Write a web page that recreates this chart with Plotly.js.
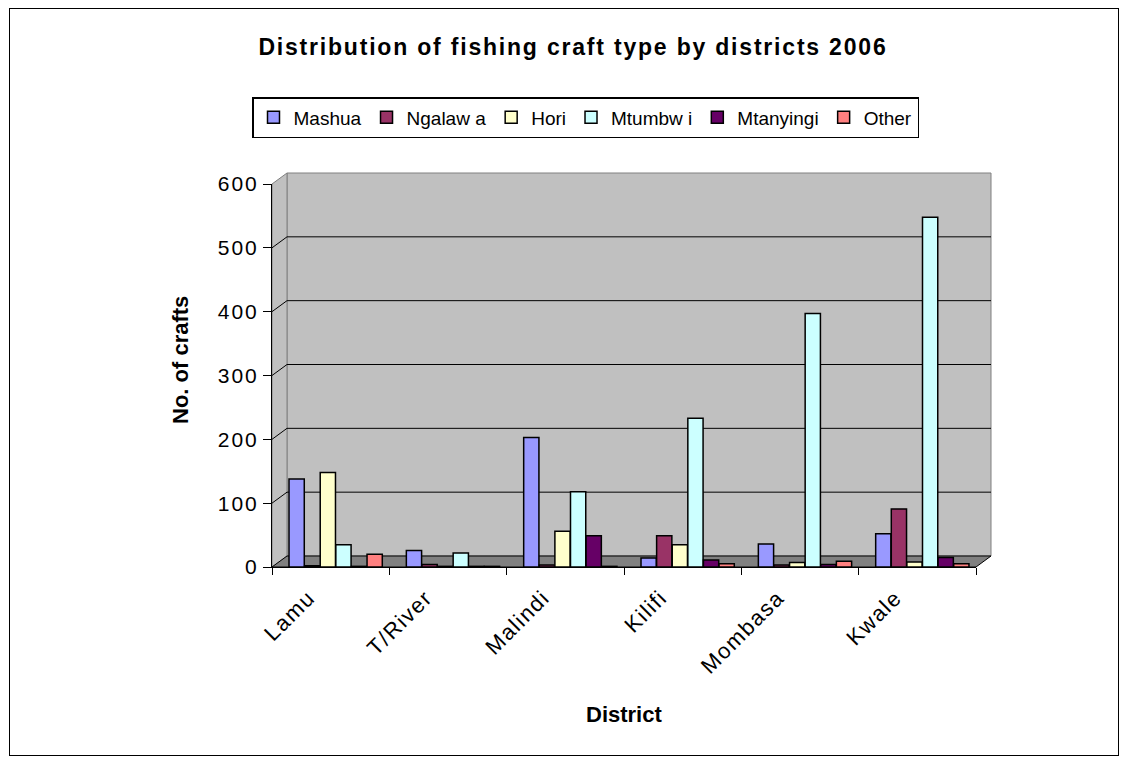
<!DOCTYPE html>
<html>
<head>
<meta charset="utf-8">
<script src="https://cdn.plot.ly/plotly-3.0.1.min.js"></script>
<style>
html,body{margin:0;padding:0;background:#fff;}
#frame{position:absolute;left:9px;top:8px;width:1110px;height:748px;border:1.5px solid #000;box-sizing:border-box;pointer-events:none;z-index:10;}
#chart{position:absolute;left:0;top:0;width:1129px;height:765px;}
#chart .gtitle{letter-spacing:1.8px;}
#chart .xtick text{letter-spacing:1.5px;}
#chart .ytick text{letter-spacing:2px;}
</style>
</head>
<body>
<div id="chart"></div>
<div id="frame"></div>
<script>
const districts = ["Lamu", "T/River", "Malindi", "Kilifi", "Mombasa", "Kwale"];
const mashua    = [138, 26, 203, 14, 36, 52];
const ngalawa   = [2, 4, 3, 49, 3, 91];
const hori      = [148, 1, 56, 35, 7, 8];
const mtumbwi   = [35, 22, 118, 233, 397, 548];
const mtanyingi = [1, 1, 49, 11, 4, 15];
const other     = [20, 1, 1, 5, 9, 5];
const yTicks    = [0, 100, 200, 300, 400, 500, 600];

const seriesNames  = ["Mashua", "Ngalaw a", "Hori", "Mtumbw i", "Mtanyingi", "Other"];
const seriesValues = [mashua, ngalawa, hori, mtumbwi, mtanyingi, other];
const seriesColors = ["#9999FF", "#993366", "#FFFFCC", "#CCFFFF", "#660066", "#FF8080"];

const BAR_W = 0.13, BAR_STEP = 0.133, BAR_START = -0.355;
const traces = seriesNames.map((n, i) => ({
  type: "bar",
  name: n,
  x: districts,
  y: seriesValues[i],
  width: BAR_W,
  offset: BAR_START + i * BAR_STEP,
  marker: {color: seriesColors[i], line: {color: "#000", width: 1.5}},
  hoverinfo: "x+y+name"
}));

const DEPTH_X = 15, DEPTH_Y = 11;
const dx = DEPTH_X/704, dy = DEPTH_Y/383;
const FONT = "Liberation Sans, Arial, sans-serif";

const shapes = [
  {type: "rect", xref: "paper", yref: "paper", layer: "below",
   x0: dx, x1: 1 + dx, y0: dy, y1: 1 + dy,
   fillcolor: "#c0c0c0", line: {color: "#808080", width: 1}},
  {type: "path", xref: "paper", yref: "paper", layer: "below",
   path: `M 0 0 L ${dx} ${dy} L ${dx} ${1+dy} L 0 1 Z`,
   fillcolor: "#c0c0c0", line: {color: "#808080", width: 1}},
  {type: "path", xref: "paper", yref: "paper", layer: "below",
   path: `M 0 0 L 1 0 L ${1+dx} ${dy} L ${dx} ${dy} Z`,
   fillcolor: "#808080", line: {color: "#000", width: 1}}
];
// back-wall gridlines and side-wall diagonals, one per y tick (except 0 and top)
yTicks.filter(v => v > 0 && v < 600).forEach(v => {
  shapes.push({type: "line", xref: "paper", yref: "y", layer: "below",
    ysizemode: "pixel", yanchor: v, x0: dx, x1: 1 + dx, y0: DEPTH_Y, y1: DEPTH_Y,
    line: {color: "#000", width: 1}});
  shapes.push({type: "line", xref: "paper", yref: "y", layer: "below",
    ysizemode: "pixel", yanchor: v, x0: 0, x1: dx, y0: 0, y1: DEPTH_Y,
    line: {color: "#000", width: 1}});
});

const layout = {
  width: 1129, height: 765,
  margin: {l: 272, r: 153, t: 184, b: 198},
  paper_bgcolor: "#fff",
  plot_bgcolor: "rgba(0,0,0,0)",
  font: {family: FONT, color: "#000"},
  title: {
    text: "<b>Distribution of fishing craft type by districts 2006</b>",
    font: {size: 23, family: FONT, color: "#000"},
    x: 0.5075, xref: "container", xanchor: "center",
    y: 1 - 47/765, yref: "container", yanchor: "middle"
  },
  barmode: "overlay",
  showlegend: true,
  legend: {
    orientation: "h",
    x: -20/704, xanchor: "left",
    y: (567-97)/383, yanchor: "top",
    bordercolor: "#000", borderwidth: 1.5,
    bgcolor: "#fff",
    font: {size: 19, family: FONT},
    traceorder: "normal",
    itemwidth: 30,
    tracegroupgap: 0
  },
  xaxis: {
    type: "category",
    tickangle: -45,
    tickfont: {size: 22},
    ticks: "outside", ticklen: 7, tickcolor: "#000",
    tickson: "boundaries",
    ticklabelshift: -22,
    ticklabelstandoff: 8,
    showline: true, linecolor: "#000", linewidth: 1,
    showgrid: false
  },
  yaxis: {
    range: [0, 600],
    tickmode: "array",
    tickvals: yTicks,
    tickfont: {size: 21},
    ticks: "outside", ticklen: 8, tickcolor: "#000",
    showline: true, linecolor: "#000", linewidth: 1,
    showgrid: false,
    zeroline: false
  },
  annotations: [
    {text: "<b>No. of crafts</b>", xref: "paper", yref: "paper",
     x: (180-272)/704, y: (567-360)/383, xanchor: "center", yanchor: "middle",
     textangle: -90, showarrow: false, font: {size: 22}},
    {text: "<b>District</b>", xref: "paper", yref: "paper",
     x: (624-272)/704, y: (567-714)/383, xanchor: "center", yanchor: "middle",
     showarrow: false, font: {size: 22}}
  ],
  shapes: shapes
};

Plotly.newPlot("chart", traces, layout, {displayModeBar: false});
</script>
</body>
</html>
